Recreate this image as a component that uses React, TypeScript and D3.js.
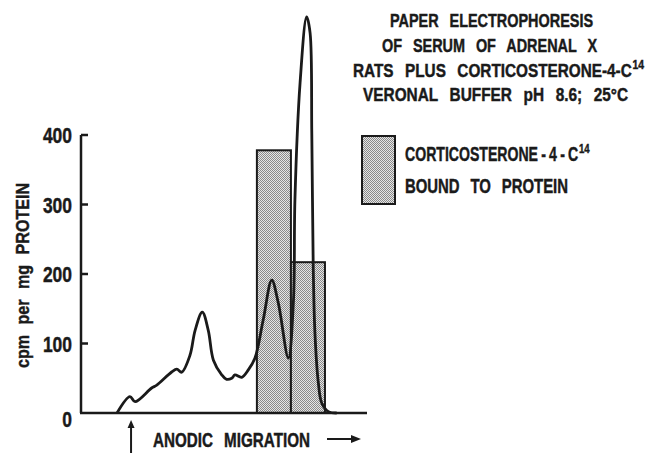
import React, { useLayoutEffect, useRef, useState } from "react";
import * as d3 from "d3";

// Migration distance (arbitrary units along the strip) and radioactivity of the scanned curve
const migration = [12.6, 17.1, 18.9, 24.7, 26.5, 31.7, 33.5, 35.2, 38.1, 39.9, 42.4, 44.5, 46.3, 49.2, 50.9, 52.7, 53.8, 56.2, 58.5, 60.8, 63.7, 66.7, 69.0, 72.5, 74.3, 74.8, 76.6, 78.9, 80.1, 80.7, 81.2, 81.8, 83.0, 84.2, 86.5, 89.4];
const cpm = [0, 23.5, 16.3, 36, 40, 59, 63, 58.7, 83, 119, 145, 119, 76, 55, 48.5, 50, 54.7, 51.4, 62, 78.7, 133.8, 191, 158, 79, 163, 307, 475, 570, 547, 402, 210, 115, 43, 14, 2, 0];

// Eluted fractions: boundaries along the strip and bound corticosterone in each
const fractionEdges = [61.5, 73.4, 85.3];
const boundValues = [378, 217];

const yTicks = [0, 100, 200, 300, 400];
const originPosition = 17.5;

const titleLines = [
  "PAPER ELECTROPHORESIS",
  "OF SERUM OF ADRENAL X",
  "RATS PLUS CORTICOSTERONE-4-C",
  "VERONAL BUFFER pH 8.6; 25°C",
];
const titleSup = ["", "", "14", ""];
const legendLines = ["CORTICOSTERONE - 4 - C", "BOUND TO PROTEIN"];
const legendSup = ["14", ""];

const W = 652;
const H = 459;
const FONT = "'Liberation Sans', Arial, sans-serif";
const INK = "#1a1a1a";

// Bold text squeezed horizontally (measured, then scaled) into a given width
function Cond(props: {
  x: number;
  y: number;
  w: number;
  size: number;
  gap?: number;
  sup?: string;
  children: React.ReactNode;
}) {
  const ref = useRef<SVGTextElement>(null);
  const [sx, setSx] = useState(0.78);
  useLayoutEffect(() => {
    const el = ref.current;
    if (!el) return;
    const natural = el.getComputedTextLength();
    if (natural > 0) setSx(props.w / natural);
  }, [props.w, props.children, props.sup]);
  return (
    <g transform={`translate(${props.x},${props.y}) scale(${sx},1)`}>
      <text
        ref={ref}
        x={0}
        y={0}
        fontFamily={FONT}
        fontWeight="bold"
        fontSize={props.size}
        fill={INK}
        stroke={INK}
        strokeWidth={0.45}
        wordSpacing={props.gap ?? 0}
      >
        {props.children}
        {props.sup ? (
          <tspan dy={-props.size * 0.42} fontSize={props.size * 0.68} dx={1}>
            {props.sup}
          </tspan>
        ) : null}
      </text>
    </g>
  );
}

export default function App() {
  const x = d3.scaleLinear().domain([0, 100]).range([81, 367]);
  const y = d3.scaleLinear().domain([0, 400]).range([413, 135]);

  const points: [number, number][] = migration.map((m, i) => [m, cpm[i]]);
  const line = d3
    .line<[number, number]>()
    .x((d) => x(d[0]))
    .y((d) => y(d[1]))
    .curve(d3.curveCatmullRom.alpha(0.5));

  const bars = boundValues.map((v, i) => ({
    x0: x(fractionEdges[i]),
    x1: x(fractionEdges[i + 1]),
    v,
  }));

  const titleX = [390, 382, 353, 363];
  const titleW = [203, 215, 290, 265];
  const titleY = [27, 52, 77, 101];

  return (
    <svg
      width={W}
      height={H}
      viewBox={`0 0 ${W} ${H}`}
      style={{ position: "absolute", left: 0, top: 0, background: "#fff" }}
    >
      <defs>
        <pattern id="stipple" width={2} height={2} patternUnits="userSpaceOnUse">
          <rect width={2} height={2} fill="#e6e6e6" />
          <rect x={0} y={0} width={1} height={1} fill="#8a8a8a" />
          <rect x={1} y={1} width={1} height={1} fill="#8a8a8a" />
        </pattern>
      </defs>

      {/* Title */}
      {titleLines.map((t, i) => (
        <Cond key={i} x={titleX[i]} y={titleY[i]} w={titleW[i]} size={19} gap={9} sup={titleSup[i]}>
          {t}
        </Cond>
      ))}

      {/* Legend */}
      <rect x={362} y={136} width={33} height={68} fill="url(#stipple)" stroke={INK} strokeWidth={2} />
      <Cond x={405} y={161} w={184} size={20} gap={-1} sup={legendSup[0]}>
        {legendLines[0]}
      </Cond>
      <Cond x={405} y={193} w={163} size={20} gap={9}>
        {legendLines[1]}
      </Cond>

      {/* Bound fractions */}
      {bars.map((b, i) => (
        <rect
          key={i}
          x={b.x0}
          y={y(b.v)}
          width={b.x1 - b.x0}
          height={y(0) - y(b.v)}
          fill="url(#stipple)"
          stroke={INK}
          strokeWidth={2}
        />
      ))}

      {/* Protein curve */}
      <path d={line(points) ?? ""} fill="none" stroke={INK} strokeWidth={2.8} strokeLinejoin="round" />

      {/* Axes */}
      <line x1={x(0)} x2={x(0)} y1={y(400)} y2={y(0)} stroke={INK} strokeWidth={2.5} />
      <line x1={x(0) - 1} x2={x(100)} y1={y(0)} y2={y(0)} stroke={INK} strokeWidth={2.5} />
      {yTicks.slice(1).map((t) => (
        <line key={t} x1={x(0)} x2={x(0) + 7} y1={y(t)} y2={y(t)} stroke={INK} strokeWidth={2.5} />
      ))}
      {yTicks.map((t) => {
        const label = String(t);
        const w = label.length * 9.7;
        return (
          <Cond key={t} x={72 - w} y={y(t) + (t === 0 ? 14 : 8)} w={w} size={22}>
            {label}
          </Cond>
        );
      })}

      {/* Y axis title */}
      <g transform="translate(29,368) rotate(-90)">
        <Cond x={0} y={0} w={185} size={19} gap={7}>
          cpm per mg PROTEIN
        </Cond>
      </g>

      {/* X axis: origin marker and direction of migration */}
      <line x1={x(originPosition)} x2={x(originPosition)} y1={453} y2={426} stroke={INK} strokeWidth={2} />
      <path
        d={`M${x(originPosition) - 3.5},${428} L${x(originPosition)},${420} L${x(originPosition) + 3.5},${428} Z`}
        fill={INK}
      />
      <Cond x={153} y={447} w={157} size={20} gap={9}>
        ANODIC MIGRATION
      </Cond>
      <line x1={327} x2={354} y1={439} y2={439} stroke={INK} strokeWidth={2} />
      <path d="M351,435 L361,439 L351,443 Z" fill={INK} />
    </svg>
  );
}
